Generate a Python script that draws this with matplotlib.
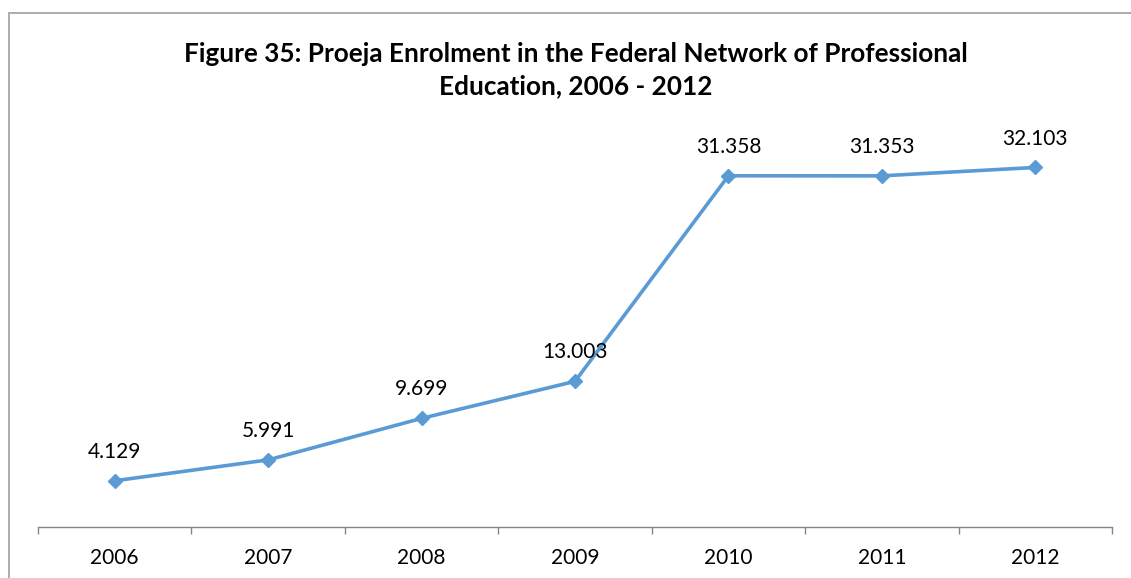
import matplotlib
matplotlib.use("Agg")
import matplotlib.pyplot as plt
from matplotlib.patches import Rectangle

years = ["2006", "2007", "2008", "2009", "2010", "2011", "2012"]
enrolment = [4.129, 5.991, 9.699, 13.003, 31.358, 31.353, 32.103]
labels = ["4.129", "5.991", "9.699", "13.003", "31.358", "31.353", "32.103"]

plt.rcParams['font.family'] = ['Lato', 'DejaVu Sans']

W, H = 1131, 578
fig = plt.figure(figsize=(W / 100, H / 100), dpi=100)

# outer chart border
fig.patches.append(Rectangle((9 / W, -0.1), 1.2, 1 - 13 / H + 0.1, transform=fig.transFigure,
                             fill=False, edgecolor='#a6a6a6', linewidth=1.3))

ax = fig.add_axes([38 / W, 1 - 527 / H, (1112 - 38) / W, 392 / H])
x = list(range(len(years)))
ax.plot(x, enrolment, color='#5B9BD5', linewidth=2.6, marker='D', markersize=7.5,
        markerfacecolor='#5B9BD5', markeredgecolor='#5B9BD5')
for xi, v, lab in zip(x, enrolment, labels):
    ax.annotate(lab, (xi, v), xytext=(0, 16.5), textcoords='offset points',
                ha='center', va='baseline', fontsize=15, color='black')

ax.set_xlim(-0.5, len(years) - 0.5)
ax.set_ylim(0, 35)
ax.set_yticks([])
ax.set_xticks(x)
ax.set_xticklabels(years, fontsize=15)
ax.set_xticks([i - 0.5 for i in range(len(years) + 1)], minor=True)
ax.tick_params(axis='x', which='major', length=0, pad=15)
ax.tick_params(axis='x', which='minor', length=5, color='#868686', width=1)
for s in ['top', 'right', 'left']:
    ax.spines[s].set_visible(False)
ax.spines['bottom'].set_color('#868686')
ax.spines['bottom'].set_linewidth(1)

fig.text(576 / W, 1 - 70 / H,
         "Figure 35: Proeja Enrolment in the Federal Network of Professional\nEducation, 2006 - 2012",
         ha='center', va='center', fontsize=18.8, fontweight='bold', linespacing=1.42)

fig.savefig("out.png", dpi=100)
